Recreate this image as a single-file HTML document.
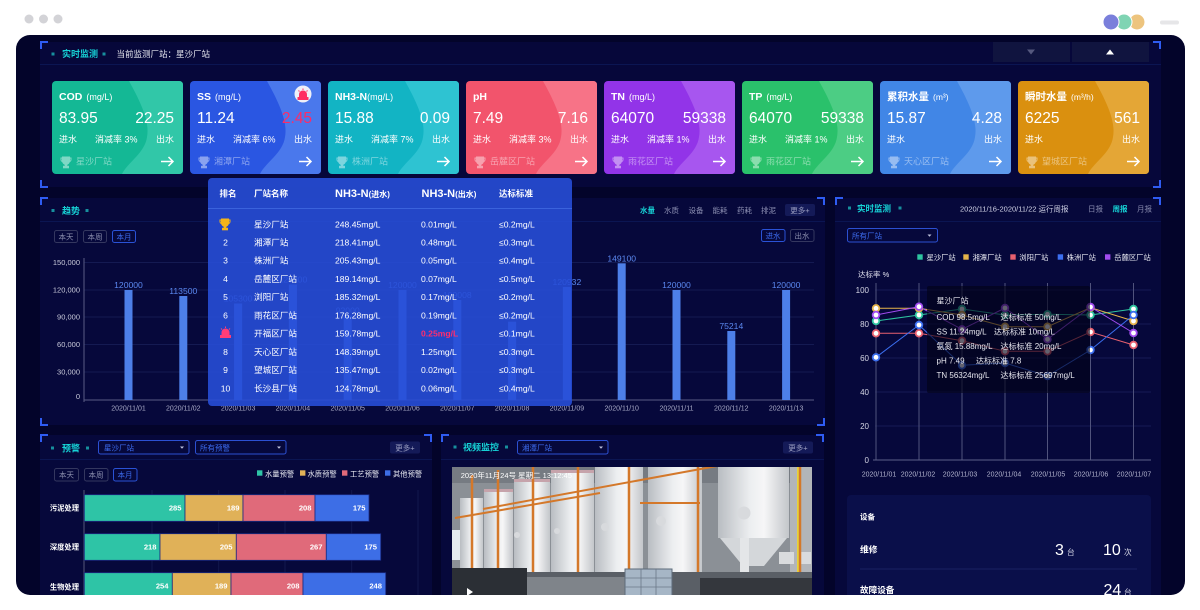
<!DOCTYPE html>
<html><head><meta charset="utf-8">
<style>
html,body{margin:0;padding:0;background:#fff;width:1200px;height:610px;overflow:hidden}
svg{display:block}
text{font-family:"Liberation Sans","Noto Sans CJK SC",sans-serif}
</style></head><body>
<svg width="1200" height="610" viewBox="0 0 1200 610" xmlns="http://www.w3.org/2000/svg" font-family="'Liberation Sans','Noto Sans CJK SC',sans-serif">
<defs>
<clipPath id="pc"><rect x="16" y="35" width="1169" height="560" rx="14"/></clipPath>
<clipPath id="vc"><rect x="452" y="467" width="360" height="130"/></clipPath>
<linearGradient id="tg" x1="0" x2="1" y1="0" y2="0"><stop offset="0" stop-color="#b9bdc2"/><stop offset="0.45" stop-color="#eceef0"/><stop offset="0.65" stop-color="#f6f6f7"/><stop offset="1" stop-color="#c3c6ca"/></linearGradient>
<g id="tro"><path d="M1.5,0 H8.5 V3.5 C8.5,6 7,7.5 5,7.5 C3,7.5 1.5,6 1.5,3.5 Z"/><path d="M1.5,1 H0 V2.5 C0,4 1,4.5 2,4.5 M8.5,1 H10 V2.5 C10,4 9,4.5 8,4.5" fill="none" stroke-width="1"/><rect x="4.2" y="7.5" width="1.6" height="2"/><rect x="2.5" y="9.3" width="5" height="1.5"/></g>
<path id="arr" d="M109,80.5 H121 M116.5,76 L121,80.5 L116.5,85" stroke="#fff" stroke-width="1.5" fill="none"/>
<path id="wave" d="M77,0 C88,20 98,40 95,56 C93,72 75,82 70,93 L127,93 Q131,93 131,89 L131,4 Q131,0 127,0 Z"/>
<g id="siren"><path d="M-3.5,3 V0 A3.5,3.5 0 0 1 3.5,0 V3 Z"/><rect x="-5" y="3" width="10" height="2"/><path d="M0,-6 V-4.5 M-4.5,-4 L-3.5,-3 M4.5,-4 L3.5,-3" stroke-width="1"/></g>
</defs>

<!-- window decorations -->
<circle cx="29" cy="19" r="4.5" fill="#d3d3d7"/>
<circle cx="43.5" cy="19" r="4.5" fill="#d3d3d7"/>
<circle cx="58" cy="19" r="4.5" fill="#d3d3d7"/>
<circle cx="1137" cy="22" r="8" fill="#edc47e" stroke="#fff" stroke-width="1"/>
<circle cx="1124" cy="22" r="8" fill="#7fd4b3" stroke="#fff" stroke-width="1"/>
<circle cx="1111" cy="22" r="8" fill="#7a7fdb" stroke="#fff" stroke-width="1"/>
<rect x="1160" y="20.5" width="19" height="4" rx="2" fill="#e6e6e8"/>

<g clip-path="url(#pc)">
<rect x="16" y="35" width="1169" height="560" fill="#03042a"/>

<!-- section backgrounds -->
<rect x="40" y="42" width="1121" height="145" fill="#06073a"/>
<rect x="40" y="198" width="785" height="227" fill="#06083b"/>
<rect x="835" y="198" width="326" height="400" fill="#06083b"/>
<rect x="40" y="435" width="392" height="165" fill="#06083b"/>
<rect x="441" y="435" width="383" height="165" fill="#06083b"/>

<!-- header underlines -->
<g stroke="#0b1552" stroke-width="1">
<line x1="40" y1="64.5" x2="1161" y2="64.5"/>
<line x1="40" y1="221.5" x2="825" y2="221.5"/>
<line x1="835" y1="221.5" x2="1161" y2="221.5"/>
<line x1="40" y1="459.5" x2="432" y2="459.5"/>
<line x1="441" y1="459.5" x2="824" y2="459.5"/>
</g>

<!-- brackets -->
<g stroke="#2f5cf2" stroke-width="2" fill="none">
<path d="M41,49 V42 H48"/><path d="M1153,42 H1160 V49"/>
<path d="M41,180 V187 H48"/><path d="M1153,187 H1160 V180"/>
<path d="M41,205 V198 H48"/><path d="M817,198 H824 V205"/>
<path d="M41,418 V425 H48"/><path d="M817,425 H824 V418"/>
<path d="M836,205 V198 H843"/><path d="M1153,198 H1160 V205"/>
<path d="M41,442 V435 H48"/><path d="M424,435 H431 V442"/>
<path d="M442,442 V435 H449"/><path d="M816,435 H823 V442"/>
</g>

<!-- top header -->
<rect x="51.5" y="52.5" width="3" height="3" fill="#178f9e"/>
<text x="62" y="57" font-size="9" font-weight="bold" fill="#16d2d6">实时监测</text>
<rect x="102.5" y="52.5" width="3" height="3" fill="#178f9e"/>
<text x="116.5" y="57" font-size="8.5" fill="#e6e7f0">当前监测厂站：星沙厂站</text>
<rect x="993" y="42" width="77" height="20" fill="#10143f"/>
<rect x="1072" y="42" width="77" height="20" fill="#10143f"/>
<path d="M1027,49.5 H1035 L1031,54.5 Z" fill="#55587e"/>
<path d="M1106,54.5 H1114 L1110,49.5 Z" fill="#fff"/>

<!-- cards -->
<g transform="translate(52,81)">
<rect width="131" height="93" rx="4" fill="#14b895"/><use href="#wave" fill="#31c7a8"/>
<text x="7" y="19" fill="#fff"><tspan font-size="10.5" font-weight="bold">COD</tspan><tspan font-size="9" dx="4">(mg/L)</tspan></text>
<text x="7" y="42" font-size="15.5" fill="#fff">83.95</text><text x="122" y="42" font-size="15.5" fill="#fff" text-anchor="end">22.25</text>
<text x="7" y="61.5" font-size="9" fill="#fff">进水</text><text x="43" y="61.5" font-size="9" fill="#fff">消减率 3%</text><text x="122" y="61.5" font-size="9" fill="#fff" text-anchor="end">出水</text>
<g opacity="0.45"><use href="#tro" x="9" y="76" fill="#fff" stroke="#fff"/><text x="24" y="83.5" font-size="9" fill="#fff">星沙厂站</text></g>
<use href="#arr"/>
</g>
<g transform="translate(190,81)">
<rect width="131" height="93" rx="4" fill="#2a56e2"/><use href="#wave" fill="#4a78ec"/>
<text x="7" y="19" fill="#fff"><tspan font-size="10.5" font-weight="bold">SS</tspan><tspan font-size="9" dx="4">(mg/L)</tspan></text>
<circle cx="113" cy="13" r="8.5" fill="#eef0f8"/>
<use href="#siren" x="113" y="13.5" fill="#ff2e63" stroke="#ff2e63"/>
<text x="7" y="42" font-size="15.5" fill="#fff">11.24</text><text x="122" y="42" font-size="15.5" fill="#ff2a66" text-anchor="end">2.45</text>
<text x="7" y="61.5" font-size="9" fill="#fff">进水</text><text x="43" y="61.5" font-size="9" fill="#fff">消减率 6%</text><text x="122" y="61.5" font-size="9" fill="#fff" text-anchor="end">出水</text>
<g opacity="0.45"><use href="#tro" x="9" y="76" fill="#fff" stroke="#fff"/><text x="24" y="83.5" font-size="9" fill="#fff">湘潭厂站</text></g>
<use href="#arr"/>
</g>
<g transform="translate(328,81)">
<rect width="131" height="93" rx="4" fill="#12b4c4"/><use href="#wave" fill="#2ec3d2"/>
<text x="7" y="19" fill="#fff"><tspan font-size="10.5" font-weight="bold">NH3-N</tspan><tspan font-size="9">(mg/L)</tspan></text>
<text x="7" y="42" font-size="15.5" fill="#fff">15.88</text><text x="122" y="42" font-size="15.5" fill="#fff" text-anchor="end">0.09</text>
<text x="7" y="61.5" font-size="9" fill="#fff">进水</text><text x="43" y="61.5" font-size="9" fill="#fff">消减率 7%</text><text x="122" y="61.5" font-size="9" fill="#fff" text-anchor="end">出水</text>
<g opacity="0.45"><use href="#tro" x="9" y="76" fill="#fff" stroke="#fff"/><text x="24" y="83.5" font-size="9" fill="#fff">株洲厂站</text></g>
<use href="#arr"/>
</g>
<g transform="translate(466,81)">
<rect width="131" height="93" rx="4" fill="#f2546c"/><use href="#wave" fill="#f77387"/>
<text x="7" y="19" fill="#fff"><tspan font-size="10.5" font-weight="bold">pH</tspan></text>
<text x="7" y="42" font-size="15.5" fill="#fff">7.49</text><text x="122" y="42" font-size="15.5" fill="#fff" text-anchor="end">7.16</text>
<text x="7" y="61.5" font-size="9" fill="#fff">进水</text><text x="43" y="61.5" font-size="9" fill="#fff">消减率 3%</text><text x="122" y="61.5" font-size="9" fill="#fff" text-anchor="end">出水</text>
<g opacity="0.45"><use href="#tro" x="9" y="76" fill="#fff" stroke="#fff"/><text x="24" y="83.5" font-size="9" fill="#fff">岳麓区厂站</text></g>
<use href="#arr"/>
</g>
<g transform="translate(604,81)">
<rect width="131" height="93" rx="4" fill="#9234e8"/><use href="#wave" fill="#a756ef"/>
<text x="7" y="19" fill="#fff"><tspan font-size="10.5" font-weight="bold">TN</tspan><tspan font-size="9" dx="4">(mg/L)</tspan></text>
<text x="7" y="42" font-size="15.5" fill="#fff">64070</text><text x="122" y="42" font-size="15.5" fill="#fff" text-anchor="end">59338</text>
<text x="7" y="61.5" font-size="9" fill="#fff">进水</text><text x="43" y="61.5" font-size="9" fill="#fff">消减率 1%</text><text x="122" y="61.5" font-size="9" fill="#fff" text-anchor="end">出水</text>
<g opacity="0.45"><use href="#tro" x="9" y="76" fill="#fff" stroke="#fff"/><text x="24" y="83.5" font-size="9" fill="#fff">雨花区厂站</text></g>
<use href="#arr"/>
</g>
<g transform="translate(742,81)">
<rect width="131" height="93" rx="4" fill="#2ac16b"/><use href="#wave" fill="#4ccd84"/>
<text x="7" y="19" fill="#fff"><tspan font-size="10.5" font-weight="bold">TP</tspan><tspan font-size="9" dx="4">(mg/L)</tspan></text>
<text x="7" y="42" font-size="15.5" fill="#fff">64070</text><text x="122" y="42" font-size="15.5" fill="#fff" text-anchor="end">59338</text>
<text x="7" y="61.5" font-size="9" fill="#fff">进水</text><text x="43" y="61.5" font-size="9" fill="#fff">消减率 1%</text><text x="122" y="61.5" font-size="9" fill="#fff" text-anchor="end">出水</text>
<g opacity="0.45"><use href="#tro" x="9" y="76" fill="#fff" stroke="#fff"/><text x="24" y="83.5" font-size="9" fill="#fff">雨花区厂站</text></g>
<use href="#arr"/>
</g>
<g transform="translate(880,81)">
<rect width="131" height="93" rx="4" fill="#4186e6"/><use href="#wave" fill="#5e9aec"/>
<text x="7" y="19" fill="#fff"><tspan font-size="10.5" font-weight="bold">累积水量</tspan><tspan font-size="8.5" dx="4">(m³)</tspan></text>
<text x="7" y="42" font-size="15.5" fill="#fff">15.87</text><text x="122" y="42" font-size="15.5" fill="#fff" text-anchor="end">4.28</text>
<text x="7" y="61.5" font-size="9" fill="#fff">进水</text><text x="122" y="61.5" font-size="9" fill="#fff" text-anchor="end">出水</text>
<g opacity="0.45"><use href="#tro" x="9" y="76" fill="#fff" stroke="#fff"/><text x="24" y="83.5" font-size="9" fill="#fff">天心区厂站</text></g>
<use href="#arr"/>
</g>
<g transform="translate(1018,81)">
<rect width="131" height="93" rx="4" fill="#da900f"/><use href="#wave" fill="#e4a636"/>
<text x="7" y="19" fill="#fff"><tspan font-size="10.5" font-weight="bold">瞬时水量</tspan><tspan font-size="8.5" dx="4">(m³/h)</tspan></text>
<text x="7" y="42" font-size="15.5" fill="#fff">6225</text><text x="122" y="42" font-size="15.5" fill="#fff" text-anchor="end">561</text>
<text x="7" y="61.5" font-size="9" fill="#fff">进水</text><text x="122" y="61.5" font-size="9" fill="#fff" text-anchor="end">出水</text>
<g opacity="0.45"><use href="#tro" x="9" y="76" fill="#fff" stroke="#fff"/><text x="24" y="83.5" font-size="9" fill="#fff">望城区厂站</text></g>
<use href="#arr"/>
</g>

<!-- TREND PANEL -->
<rect x="51.5" y="209" width="3" height="3" fill="#178f9e"/>
<text x="62" y="214" font-size="9" font-weight="bold" fill="#16d2d6">趋势</text>
<rect x="85.5" y="209" width="3" height="3" fill="#178f9e"/>
<g font-size="7.5" fill="#8a8db0">
<text x="640" y="213" fill="#16d2d6" font-weight="bold">水量</text>
<text x="664" y="213">水质</text><text x="688.5" y="213">设备</text><text x="712.5" y="213">能耗</text><text x="737" y="213">药耗</text><text x="761" y="213">排泥</text>
</g>
<rect x="785" y="204" width="30" height="12" rx="2" fill="#141a58"/>
<text x="800" y="213" font-size="7.5" fill="#9a9dc0" text-anchor="middle">更多+</text>
<g font-size="7.5" text-anchor="middle">
<rect x="54.5" y="230.5" width="23" height="12" rx="2" fill="none" stroke="#34375f"/><text x="66" y="239.5" fill="#8c8fae">本天</text>
<rect x="83.5" y="230.5" width="23" height="12" rx="2" fill="none" stroke="#34375f"/><text x="95" y="239.5" fill="#8c8fae">本周</text>
<rect x="112.5" y="230.5" width="23" height="12" rx="2" fill="none" stroke="#2a52d6"/><text x="124" y="239.5" fill="#3d6cf0">本月</text>
<rect x="761.5" y="229.5" width="23.5" height="12" rx="2" fill="none" stroke="#2a52d6"/><text x="773" y="238.5" fill="#3d6cf0">进水</text>
<rect x="790.5" y="229.5" width="23.5" height="12" rx="2" fill="none" stroke="#34375f"/><text x="802" y="238.5" fill="#8c8fae">出水</text>
</g>
<!-- grid -->
<g stroke="#141a52" stroke-width="1">
<line x1="84" y1="262.5" x2="814" y2="262.5"/><line x1="84" y1="290" x2="814" y2="290"/><line x1="84" y1="317" x2="814" y2="317"/><line x1="84" y1="344.5" x2="814" y2="344.5"/><line x1="84" y1="372" x2="814" y2="372"/>
</g>
<line x1="84" y1="400" x2="814" y2="400" stroke="#5a5d85"/>
<line x1="84" y1="258" x2="84" y2="402" stroke="#5a5d85"/>
<g font-size="7.5" fill="#c8c9da" text-anchor="end">
<text x="80" y="265">150,000</text><text x="80" y="292.5">120,000</text><text x="80" y="319.5">90,000</text><text x="80" y="347">60,000</text><text x="80" y="374.5">30,000</text><text x="80" y="399">0</text>
</g>
<g fill="#4d7fe8">
<rect x="124.5" y="290" width="8" height="110"/>
<rect x="179.3" y="296" width="8" height="104"/>
<rect x="234.1" y="303.5" width="8" height="96.5"/>
<rect x="288.9" y="284.5" width="8" height="115.5"/>
<rect x="343.7" y="315.7" width="8" height="84.3"/>
<rect x="398.5" y="290" width="8" height="110"/>
<rect x="453.3" y="300" width="8" height="100"/>
<rect x="508.1" y="321.7" width="8" height="78.3"/>
<rect x="562.9" y="287" width="8" height="113"/>
<rect x="617.7" y="263.3" width="8" height="136.7"/>
<rect x="672.5" y="290" width="8" height="110"/>
<rect x="727.3" y="331" width="8" height="69"/>
<rect x="782.1" y="290" width="8" height="110"/>
</g>
<g font-size="8.6" fill="#5b88f0" text-anchor="middle">
<text x="128.5" y="288">120000</text><text x="183.3" y="294">113500</text><text x="238.1" y="301.5">105300</text><text x="292.9" y="282.5">126000</text><text x="347.7" y="313.7">92000</text><text x="402.5" y="288">120000</text><text x="457.3" y="298">109008</text><text x="512.1" y="319.7">85400</text><text x="566.9" y="285">120932</text><text x="621.7" y="261.3">149100</text><text x="676.5" y="288">120000</text><text x="731.3" y="329">75214</text><text x="786.1" y="288">120000</text>
</g>
<g font-size="7" fill="#a8aac6" text-anchor="middle">
<text x="128.5" y="410.5">2020/11/01</text><text x="183.3" y="410.5">2020/11/02</text><text x="238.1" y="410.5">2020/11/03</text><text x="292.9" y="410.5">2020/11/04</text><text x="347.7" y="410.5">2020/11/05</text><text x="402.5" y="410.5">2020/11/06</text><text x="457.3" y="410.5">2020/11/07</text><text x="512.1" y="410.5">2020/11/08</text><text x="566.9" y="410.5">2020/11/09</text><text x="621.7" y="410.5">2020/11/10</text><text x="676.5" y="410.5">2020/11/11</text><text x="731.3" y="410.5">2020/11/12</text><text x="786.1" y="410.5">2020/11/13</text>
</g>

<!-- RIGHT PANEL -->
<rect x="848" y="206.5" width="3" height="3" fill="#178f9e"/>
<text x="857" y="211.5" font-size="8.5" font-weight="bold" fill="#16d2d6">实时监测</text>
<rect x="898.5" y="206.5" width="3" height="3" fill="#178f9e"/>
<text x="960" y="211.5" font-size="7.5" fill="#d0d2e6">2020/11/16-2020/11/22 运行周报</text>
<text x="1088" y="211.5" font-size="7.5" fill="#8a8db0">日报</text>
<text x="1112.5" y="211.5" font-size="7.5" font-weight="bold" fill="#16d2d6">周报</text>
<text x="1137" y="211.5" font-size="7.5" fill="#8a8db0">月报</text>
<rect x="847.5" y="228.5" width="90" height="13.5" rx="2" fill="none" stroke="#2c50d2"/>
<text x="852" y="238.5" font-size="7.5" fill="#3d6cf0">所有厂站</text>
<path d="M927.5,234.5 H931.5 L929.5,236.8 Z" fill="#c0c3de"/>
<g font-size="7.3" fill="#e6e7f0">
<rect x="917.3" y="254.3" width="5.4" height="5.4" fill="#2ec4a0"/><text x="926.5" y="260">星沙厂站</text>
<rect x="963.3" y="254.3" width="5.4" height="5.4" fill="#e6b44a"/><text x="972.5" y="260">湘潭厂站</text>
<rect x="1010.3" y="254.3" width="5.4" height="5.4" fill="#e8606f"/><text x="1019.3" y="260">浏阳厂站</text>
<rect x="1057.7" y="254.3" width="5.4" height="5.4" fill="#3c6ff0"/><text x="1066.7" y="260">株洲厂站</text>
<rect x="1105" y="254.3" width="5.4" height="5.4" fill="#a24cf0"/><text x="1114.3" y="260">岳麓区厂站</text>
</g>
<text x="858" y="277" font-size="7.5" fill="#e0e0ee">达标率 %</text>
<g stroke="#151a55">
<line x1="875" y1="290" x2="1151" y2="290"/><line x1="875" y1="324" x2="1151" y2="324"/><line x1="875" y1="358" x2="1151" y2="358"/><line x1="875" y1="392" x2="1151" y2="392"/><line x1="875" y1="426" x2="1151" y2="426"/>
</g>
<g stroke="#50537c" stroke-width="1">
<line x1="876" y1="283" x2="876" y2="460"/><line x1="919" y1="283" x2="919" y2="460"/><line x1="962" y1="283" x2="962" y2="460"/><line x1="1005" y1="283" x2="1005" y2="460"/><line x1="1047.5" y1="283" x2="1047.5" y2="460"/><line x1="1090.5" y1="283" x2="1090.5" y2="460"/><line x1="1133.5" y1="283" x2="1133.5" y2="460"/>
</g>
<line x1="873" y1="460" x2="1151" y2="460" stroke="#5c5f88"/>
<g font-size="8" fill="#d4d5e4" text-anchor="end">
<text x="869" y="293">100</text><text x="869" y="327">80</text><text x="869" y="361">60</text><text x="869" y="395">40</text><text x="869" y="429">20</text><text x="869" y="463">0</text>
</g>
<g font-size="7" fill="#b0b2cc" text-anchor="middle">
<text x="879" y="476.5">2020/11/01</text><text x="918" y="476.5">2020/11/02</text><text x="960" y="476.5">2020/11/03</text><text x="1004" y="476.5">2020/11/04</text><text x="1048" y="476.5">2020/11/05</text><text x="1091" y="476.5">2020/11/06</text><text x="1134" y="476.5">2020/11/07</text>
</g>
<g fill="none" stroke-width="1">
<polyline stroke="#2ec4a0" points="876,321 919,315 962,309 1005,315 1047.5,314.3 1090.5,315 1133.5,309"/>
<polyline stroke="#e6b44a" points="876,308.3 919,308.3 962,315 1005,326.7 1047.5,326.7 1090.5,307.7 1133.5,321"/>
<polyline stroke="#e8606f" points="876,333.3 919,333.3 962,340.7 1005,351.3 1047.5,351.3 1090.5,332 1133.5,345"/>
<polyline stroke="#3c6ff0" points="876,357.3 919,325 962,365.3 1005,363 1047.5,376 1090.5,350 1133.5,315"/>
<polyline stroke="#a24cf0" points="876,315 919,306.7 962,329.3 1005,308 1047.5,339.3 1090.5,307 1133.5,333"/>
</g>
<g fill="#fff" stroke-width="1.8">
<g stroke="#2ec4a0"><circle cx="876" cy="321" r="3.3"/><circle cx="919" cy="315" r="3.3"/><circle cx="962" cy="309" r="3.3"/><circle cx="1005" cy="315" r="3.3"/><circle cx="1047.5" cy="314.3" r="3.3"/><circle cx="1090.5" cy="315" r="3.3"/><circle cx="1133.5" cy="309" r="3.3"/></g>
<g stroke="#e6b44a"><circle cx="876" cy="308.3" r="3.3"/><circle cx="919" cy="308.3" r="3.3"/><circle cx="962" cy="315" r="3.3"/><circle cx="1005" cy="326.7" r="3.3"/><circle cx="1047.5" cy="326.7" r="3.3"/><circle cx="1090.5" cy="307.7" r="3.3"/><circle cx="1133.5" cy="321" r="3.3"/></g>
<g stroke="#e8606f"><circle cx="876" cy="333.3" r="3.3"/><circle cx="919" cy="333.3" r="3.3"/><circle cx="962" cy="340.7" r="3.3"/><circle cx="1005" cy="351.3" r="3.3"/><circle cx="1047.5" cy="351.3" r="3.3"/><circle cx="1090.5" cy="332" r="3.3"/><circle cx="1133.5" cy="345" r="3.3"/></g>
<g stroke="#3c6ff0"><circle cx="876" cy="357.3" r="3.3"/><circle cx="919" cy="325" r="3.3"/><circle cx="962" cy="365.3" r="3.3"/><circle cx="1005" cy="363" r="3.3"/><circle cx="1047.5" cy="376" r="3.3"/><circle cx="1090.5" cy="350" r="3.3"/><circle cx="1133.5" cy="315" r="3.3"/></g>
<g stroke="#a24cf0"><circle cx="876" cy="315" r="3.3"/><circle cx="919" cy="306.7" r="3.3"/><circle cx="962" cy="329.3" r="3.3"/><circle cx="1005" cy="308" r="3.3"/><circle cx="1047.5" cy="339.3" r="3.3"/><circle cx="1090.5" cy="307" r="3.3"/><circle cx="1133.5" cy="333" r="3.3"/></g>
</g>
<rect x="927" y="286" width="163" height="107" rx="2" fill="#020216" fill-opacity="0.62"/>
<g font-size="8" fill="#e6e6ee">
<text x="936.5" y="303.5">星沙厂站</text>
<text x="936.5" y="320">COD  98.5mg/L</text><text x="1000.5" y="320">达标标准  50mg/L</text>
<text x="936.5" y="334.5">SS 11.24mg/L</text><text x="994" y="334.5">达标标准  10mg/L</text>
<text x="936.5" y="349">氨氮  15.88mg/L</text><text x="1000.5" y="349">达标标准  20mg/L</text>
<text x="936.5" y="363.5">pH  7.49</text><text x="976" y="363.5">达标标准  7.8</text>
<text x="936.5" y="378">TN  56324mg/L</text><text x="1000.5" y="378">达标标准  25697mg/L</text>
</g>
<!-- equipment card -->
<rect x="847" y="495" width="304" height="110" rx="4" fill="#0a0f4a"/>
<text x="860" y="519.5" font-size="7.5" font-weight="bold" fill="#fff">设备</text>
<text x="860" y="552.5" font-size="8.8" font-weight="bold" fill="#fff">维修</text>
<text x="1055" y="555" font-size="16" fill="#fff">3</text><text x="1067" y="555" font-size="7.7" fill="#d8d9e8">台</text>
<text x="1103" y="555" font-size="16" fill="#fff">10</text><text x="1124" y="555" font-size="7.7" fill="#d8d9e8">次</text>
<line x1="860" y1="569" x2="1137" y2="569" stroke="#1a2163"/>
<text x="860" y="593" font-size="8.6" font-weight="bold" fill="#fff">故障设备</text>
<text x="1103.5" y="595" font-size="16" fill="#fff">24</text><text x="1124" y="595" font-size="7.7" fill="#d8d9e8">台</text>

<!-- BOTTOM LEFT 预警 -->
<rect x="51" y="446.5" width="3" height="3" fill="#178f9e"/>
<text x="62" y="451.5" font-size="9" font-weight="bold" fill="#16d2d6">预警</text>
<rect x="86" y="446.5" width="3" height="3" fill="#178f9e"/>
<rect x="98.5" y="440.5" width="90.5" height="13.5" rx="2" fill="none" stroke="#2c50d2"/>
<text x="104" y="450.5" font-size="7.5" fill="#3d6cf0">星沙厂站</text>
<path d="M180,446.5 H184 L182,448.8 Z" fill="#c0c3de"/>
<rect x="195.5" y="440.5" width="90.5" height="13.5" rx="2" fill="none" stroke="#2c50d2"/>
<text x="200" y="450.5" font-size="7.5" fill="#3d6cf0">所有预警</text>
<path d="M277,446.5 H281 L279,448.8 Z" fill="#c0c3de"/>
<rect x="390" y="441.5" width="30" height="12" rx="2" fill="#141a58"/>
<text x="405" y="450.5" font-size="7.5" fill="#9a9dc0" text-anchor="middle">更多+</text>
<g font-size="7.5" text-anchor="middle">
<rect x="54.5" y="468.5" width="24" height="12.5" rx="2" fill="none" stroke="#34375f"/><text x="66.5" y="477.5" fill="#8c8fae">本天</text>
<rect x="84.5" y="468.5" width="23.5" height="12.5" rx="2" fill="none" stroke="#34375f"/><text x="96" y="477.5" fill="#8c8fae">本周</text>
<rect x="113.5" y="468.5" width="23.5" height="12.5" rx="2" fill="none" stroke="#2a52d6"/><text x="125" y="477.5" fill="#3d6cf0">本月</text>
</g>
<g font-size="7.3" fill="#e6e7f0">
<rect x="257" y="470.3" width="5.4" height="5.4" fill="#2ec4a6"/><text x="265" y="476.3">水量预警</text>
<rect x="300" y="470.3" width="5.4" height="5.4" fill="#e0b158"/><text x="307.5" y="476.3">水质预警</text>
<rect x="342" y="470.3" width="5.4" height="5.4" fill="#e06a7a"/><text x="350" y="476.3">工艺预警</text>
<rect x="385" y="470.3" width="5.4" height="5.4" fill="#3d6ee6"/><text x="393" y="476.3">其他预警</text>
</g>
<g stroke="#12174d"><line x1="152" y1="490" x2="152" y2="600"/><line x1="218.7" y1="490" x2="218.7" y2="600"/><line x1="285" y1="490" x2="285" y2="600"/><line x1="351.7" y1="490" x2="351.7" y2="600"/><line x1="418" y1="490" x2="418" y2="600"/></g>
<line x1="84" y1="490" x2="84" y2="600" stroke="#55587a"/>
<g stroke="#1b2a80" stroke-width="0.8">
<rect x="84.3" y="494.7" width="100.7" height="26.6" fill="#2ec4a6"/><rect x="185" y="494.7" width="58" height="26.6" fill="#e0b158"/><rect x="243" y="494.7" width="72" height="26.6" fill="#e06a7a"/><rect x="315" y="494.7" width="54" height="26.6" fill="#3d6ee6"/>
<rect x="84.3" y="533.7" width="75.7" height="26.6" fill="#2ec4a6"/><rect x="160" y="533.7" width="76.3" height="26.6" fill="#e0b158"/><rect x="236.3" y="533.7" width="90" height="26.6" fill="#e06a7a"/><rect x="326.3" y="533.7" width="54.4" height="26.6" fill="#3d6ee6"/>
<rect x="84.3" y="572.7" width="88" height="26.6" fill="#2ec4a6"/><rect x="172.3" y="572.7" width="58.7" height="26.6" fill="#e0b158"/><rect x="231" y="572.7" width="72" height="26.6" fill="#e06a7a"/><rect x="303" y="572.7" width="82.7" height="26.6" fill="#3d6ee6"/>
</g>
<g font-size="7.6" font-weight="bold" fill="#fff" text-anchor="end">
<text x="181.5" y="510.5">285</text><text x="239.5" y="510.5">189</text><text x="311.5" y="510.5">208</text><text x="365.5" y="510.5">175</text>
<text x="156.5" y="549.5">218</text><text x="232.5" y="549.5">205</text><text x="322.5" y="549.5">267</text><text x="377" y="549.5">175</text>
<text x="168.5" y="588.5">254</text><text x="227.5" y="588.5">189</text><text x="299.5" y="588.5">208</text><text x="382" y="588.5">248</text>
</g>
<g font-size="7.3" font-weight="bold" fill="#fff" text-anchor="end">
<text x="79" y="510.5">污泥处理</text><text x="79" y="549.5">深度处理</text><text x="79" y="589.5">生物处理</text>
</g>

<!-- BOTTOM MIDDLE 视频监控 -->
<rect x="453.5" y="445.5" width="3" height="3" fill="#178f9e"/>
<text x="463" y="450.5" font-size="9" font-weight="bold" fill="#16d2d6">视频监控</text>
<rect x="505" y="445.5" width="3" height="3" fill="#178f9e"/>
<rect x="517.5" y="440.5" width="90.5" height="13.5" rx="2" fill="none" stroke="#2c50d2"/>
<text x="522" y="450.5" font-size="7.5" fill="#3d6cf0">湘潭厂站</text>
<path d="M599,446.5 H603 L601,448.8 Z" fill="#c0c3de"/>
<rect x="783" y="441.5" width="30" height="12" rx="2" fill="#141a58"/>
<text x="798" y="450.5" font-size="7.5" fill="#9a9dc0" text-anchor="middle">更多+</text>
<g clip-path="url(#vc)">
<rect x="452" y="467" width="360" height="130" fill="#8b9096"/>
<rect x="452" y="467" width="360" height="16" fill="#767b82"/>
<rect x="452" y="530" width="8" height="30" fill="#e6ecf0"/>
<g fill="url(#tg)">
<rect x="460" y="498" width="23" height="76"/>
<rect x="484" y="491" width="29" height="83"/>
<rect x="514" y="481" width="36" height="93"/>
<rect x="551" y="472" width="43" height="102"/>
<rect x="595" y="466" width="48" height="106"/>
<rect x="648" y="466" width="54" height="106"/>
<rect x="718" y="462" width="71" height="76"/>
</g>
<path d="M720,538 H787 L764,566 H743 Z" fill="#d4d7da"/>
<g fill="#c6a3ab"><rect x="484" y="489" width="29" height="3"/><rect x="514" y="479" width="36" height="3"/><rect x="551" y="470" width="43" height="3"/></g>
<rect x="790" y="467" width="22" height="130" fill="#b2b5b9"/>
<rect x="797" y="467" width="3" height="110" fill="#e7d23a"/>
<rect x="779" y="552" width="15" height="12" fill="#d9dbdd"/><rect x="799" y="552" width="12" height="12" fill="#d9dbdd"/>
<g fill="#d8dadd"><circle cx="605" cy="527" r="4"/><circle cx="661" cy="521" r="5"/><circle cx="744" cy="513" r="6.5"/><circle cx="557" cy="531" r="3"/><circle cx="517" cy="535" r="3"/></g>
<g stroke="#d4782a" stroke-width="2.5">
<line x1="472" y1="475" x2="472" y2="580"/><line x1="498" y1="470" x2="498" y2="580"/><line x1="533" y1="467" x2="533" y2="580"/><line x1="578" y1="467" x2="578" y2="580"/><line x1="629" y1="467" x2="629" y2="580"/><line x1="698" y1="467" x2="698" y2="590"/><line x1="800" y1="467" x2="800" y2="590"/>
</g>
<g stroke="#d4782a" stroke-width="2"><line x1="483" y1="509" x2="717" y2="466"/><line x1="455" y1="518" x2="600" y2="493"/><line x1="640" y1="503" x2="700" y2="503"/></g>
<rect x="740" y="538" width="9" height="60" fill="#e4e6e8"/>
<rect x="452" y="572" width="360" height="26" fill="#5a5f66"/>
<rect x="527" y="577" width="100" height="21" fill="#7f848a"/>
<rect x="452" y="568" width="75" height="30" fill="#2b2f35"/>
<rect x="700" y="578" width="112" height="20" fill="#34373d"/>
<rect x="625" y="569" width="47" height="30" fill="#a6b6c6" stroke="#5d6b7a" stroke-width="1"/>
<g stroke="#6b7888" stroke-width="0.8"><line x1="625" y1="578" x2="672" y2="578"/><line x1="625" y1="587" x2="672" y2="587"/><line x1="641" y1="569" x2="641" y2="598"/><line x1="656" y1="569" x2="656" y2="598"/></g>
<path d="M467,588 L473,592 L467,596 Z" fill="#fff"/>
<text x="460.7" y="478" font-size="7.5" fill="#fff">2020年11月24号 星期二 13:12:45</text>
</g>

<!-- POPUP TABLE -->
<rect x="208" y="178" width="364" height="228" rx="4" fill="#274ed7" fill-opacity="0.9"/>
<line x1="208" y1="208.5" x2="572" y2="208.5" stroke="#3a62dc"/>
<g fill="#fff" font-weight="bold">
<text x="228" y="196.5" font-size="8.5" text-anchor="middle">排名</text>
<text x="254" y="196.5" font-size="8.5">厂站名称</text>
<text x="335" y="197"><tspan font-size="11">NH3-N</tspan><tspan font-size="8">(进水)</tspan></text>
<text x="421.5" y="197"><tspan font-size="11">NH3-N</tspan><tspan font-size="8">(出水)</tspan></text>
<text x="499" y="196.5" font-size="8.5">达标标准</text>
</g>
<use href="#tro" x="220" y="219" fill="#f4b41a" stroke="#f4b41a"/>
<use href="#siren" x="225.5" y="332.5" fill="#ff3d78" stroke="#ff3d78"/>
<g font-size="8.6" fill="#fff">
<text x="225.5" y="245.5" text-anchor="middle">2</text>
<text x="225.5" y="263.7" text-anchor="middle">3</text>
<text x="225.5" y="281.9" text-anchor="middle">4</text>
<text x="225.5" y="300.1" text-anchor="middle">5</text>
<text x="225.5" y="318.4" text-anchor="middle">6</text>
<text x="225.5" y="354.8" text-anchor="middle">8</text>
<text x="225.5" y="373" text-anchor="middle">9</text>
<text x="225.5" y="391.3" text-anchor="middle">10</text>

<text x="254" y="227.3">星沙厂站</text><text x="335" y="227.3">248.45mg/L</text><text x="421" y="227.3">0.01mg/L</text><text x="499" y="227.3">≤0.2mg/L</text>
<text x="254" y="245.5">湘潭厂站</text><text x="335" y="245.5">218.41mg/L</text><text x="421" y="245.5">0.48mg/L</text><text x="499" y="245.5">≤0.3mg/L</text>
<text x="254" y="263.7">株洲厂站</text><text x="335" y="263.7">205.43mg/L</text><text x="421" y="263.7">0.05mg/L</text><text x="499" y="263.7">≤0.4mg/L</text>
<text x="254" y="281.9">岳麓区厂站</text><text x="335" y="281.9">189.14mg/L</text><text x="421" y="281.9">0.07mg/L</text><text x="499" y="281.9">≤0.5mg/L</text>
<text x="254" y="300.1">浏阳厂站</text><text x="335" y="300.1">185.32mg/L</text><text x="421" y="300.1">0.17mg/L</text><text x="499" y="300.1">≤0.2mg/L</text>
<text x="254" y="318.4">雨花区厂站</text><text x="335" y="318.4">176.28mg/L</text><text x="421" y="318.4">0.19mg/L</text><text x="499" y="318.4">≤0.2mg/L</text>
<text x="254" y="336.6">开福区厂站</text><text x="335" y="336.6">159.78mg/L</text><text x="421" y="336.6" fill="#ff2d6e" font-weight="bold">0.25mg/L</text><text x="499" y="336.6">≤0.1mg/L</text>
<text x="254" y="354.8">天心区厂站</text><text x="335" y="354.8">148.39mg/L</text><text x="421" y="354.8">1.25mg/L</text><text x="499" y="354.8">≤0.3mg/L</text>
<text x="254" y="373">望城区厂站</text><text x="335" y="373">135.47mg/L</text><text x="421" y="373">0.02mg/L</text><text x="499" y="373">≤0.3mg/L</text>
<text x="254" y="391.3">长沙县厂站</text><text x="335" y="391.3">124.78mg/L</text><text x="421" y="391.3">0.06mg/L</text><text x="499" y="391.3">≤0.4mg/L</text>
</g>
</g>
</svg>
</body></html>
